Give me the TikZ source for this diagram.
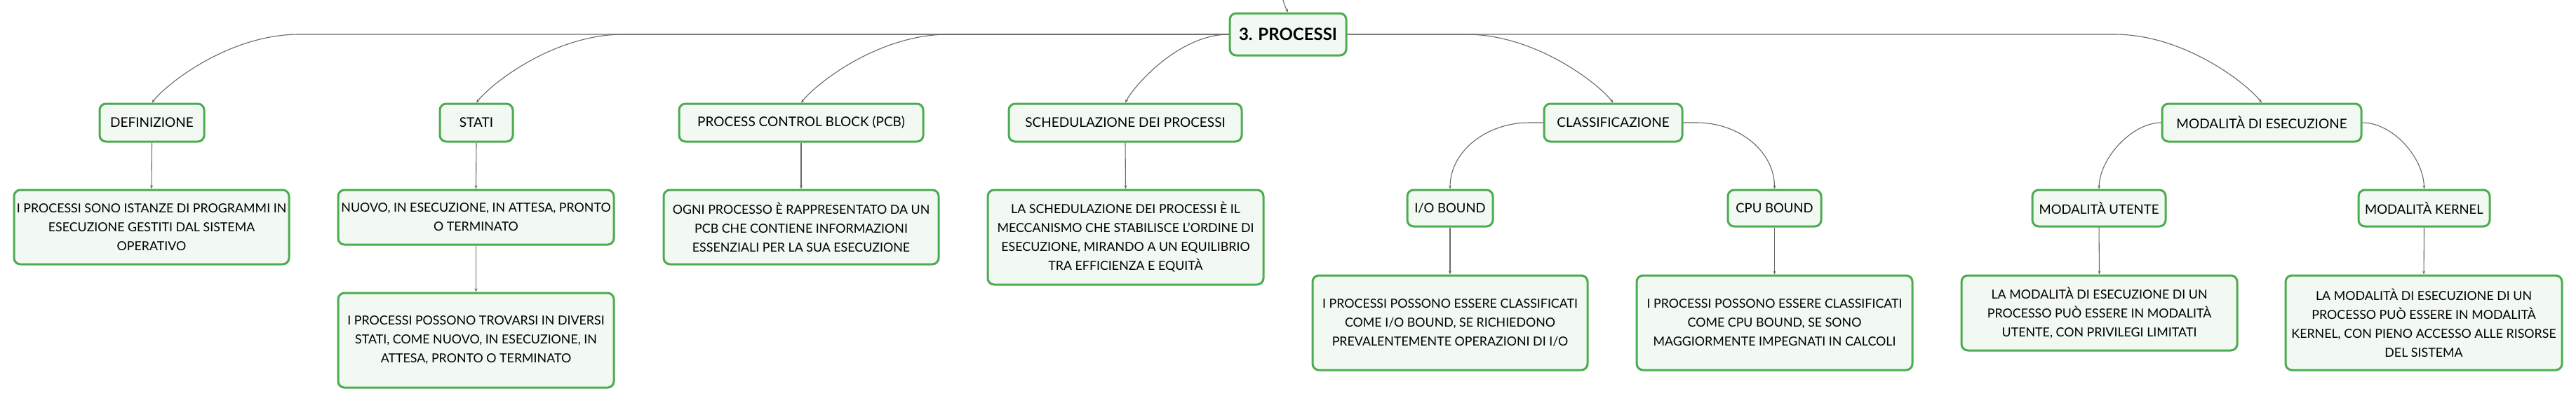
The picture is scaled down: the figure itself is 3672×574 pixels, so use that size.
\documentclass[tikz,border=0pt]{standalone}
\usepackage{fontspec}
\setmainfont{Lato}
\usetikzlibrary{arrows.meta}
\definecolor{boxgreen}{RGB}{76,172,80}
\definecolor{boxfill}{RGB}{242,249,242}
\definecolor{conngray}{RGB}{105,105,105}
\tikzset{
  box/.style={draw=boxgreen, line width=3pt, fill=boxfill, rounded corners=9pt, inner sep=0pt, align=center, text=black},
  lbl/.style={box, font=\fontsize{19}{24}\selectfont, minimum height=54pt},
  sublbl/.style={box, font=\fontsize{18.5}{24}\selectfont, minimum height=52pt},
  body/.style={box, font=\fontsize{17.8}{27}\selectfont},
  rootbox/.style={box, font=\bfseries\fontsize{24}{28}\selectfont, minimum width=166pt, minimum height=60pt},
  conn/.style={draw=conngray, line width=1.1pt, -{Stealth[length=5pt,width=4pt]}},
}
\begin{document}
\begin{tikzpicture}[x=1pt,y=-1pt]
\useasboundingbox (0,0) rectangle (3672,574);
\fill[white] (0,0) rectangle (3672,574);

% root
\node[rootbox] (root) at (1836,49) {3. PROCESSI};
\coordinate (topin) at (1829,0);

% level 1
\node[lbl, minimum width=149pt] (def) at (216.5,175) {DEFINIZIONE};
\node[lbl, minimum width=104pt] (stati) at (679,175) {STATI};
\node[lbl, minimum width=348pt] (pcb) at (1142,175) {PROCESS CONTROL BLOCK (PCB)};
\node[lbl, minimum width=332pt] (sched) at (1604,175) {SCHEDULAZIONE DEI PROCESSI};
\node[lbl, minimum width=197pt] (class) at (2299.5,175) {CLASSIFICAZIONE};
\node[lbl, minimum width=284pt] (mod) at (3224,175) {MODALITÀ DI ESECUZIONE};

% level 2 labels
\node[sublbl, minimum width=122pt] (iob) at (2067,297) {I/O BOUND};
\node[sublbl, minimum width=133pt] (cpub) at (2529.5,297) {CPU BOUND};
\node[sublbl, minimum width=190pt] (ute) at (2992,297) {MODALITÀ UTENTE};
\node[sublbl, minimum width=187pt] (ker) at (3455.5,297) {MODALITÀ KERNEL};

% text boxes
\node[body, minimum width=392pt, minimum height=106pt] (tdef) at (216,324)
  {I PROCESSI SONO ISTANZE DI PROGRAMMI IN\\ESECUZIONE GESTITI DAL SISTEMA\\OPERATIVO};
\node[body, minimum width=393pt, minimum height=78pt] (tst1) at (678.5,310)
  {NUOVO, IN ESECUZIONE, IN ATTESA, PRONTO\\O TERMINATO};
\node[body, minimum width=393pt, minimum height=135pt] (tst2) at (678.5,485.5)
  {I PROCESSI POSSONO TROVARSI IN DIVERSI\\STATI, COME NUOVO, IN ESECUZIONE, IN\\ATTESA, PRONTO O TERMINATO};
\node[body, minimum width=392pt, minimum height=106pt] (tpcb) at (1142,324)
  {OGNI PROCESSO È RAPPRESENTATO DA UN\\PCB CHE CONTIENE INFORMAZIONI\\ESSENZIALI PER LA SUA ESECUZIONE};
\node[body, minimum width=393pt, minimum height=135pt] (tsch) at (1604.5,338.5)
  {LA SCHEDULAZIONE DEI PROCESSI È IL\\MECCANISMO CHE STABILISCE L'ORDINE DI\\ESECUZIONE, MIRANDO A UN EQUILIBRIO\\TRA EFFICIENZA E EQUITÀ};
\node[body, minimum width=392pt, minimum height=135pt] (tio) at (2067,460.5)
  {I PROCESSI POSSONO ESSERE CLASSIFICATI\\COME I/O BOUND, SE RICHIEDONO\\PREVALENTEMENTE OPERAZIONI DI I/O};
\node[body, minimum width=393pt, minimum height=135pt] (tcpu) at (2529.5,460.5)
  {I PROCESSI POSSONO ESSERE CLASSIFICATI\\COME CPU BOUND, SE SONO\\MAGGIORMENTE IMPEGNATI IN CALCOLI};
\node[body, minimum width=393pt, minimum height=107pt] (tute) at (2992.5,446.5)
  {LA MODALITÀ DI ESECUZIONE DI UN\\PROCESSO PUÒ ESSERE IN MODALITÀ\\UTENTE, CON PRIVILEGI LIMITATI};
\node[body, minimum width=394pt, minimum height=135pt] (tker) at (3455,460.5)
  {LA MODALITÀ DI ESECUZIONE DI UN\\PROCESSO PUÒ ESSERE IN MODALITÀ\\KERNEL, CON PIENO ACCESSO ALLE RISORSE\\DEL SISTEMA};

% incoming from above
\draw[conn] (topin) .. controls (1832,10) .. (root.north);

% root -> level 1 (left)
\foreach \c in {def,stati,pcb}{
  \draw[conn] (root.west) -- ([xshift=210pt]\c.north |- root.west)
    .. controls ([xshift=111pt]\c.north |- root.west) and ([xshift=22pt,yshift=28pt]\c.north) .. (\c.north);
}
\draw[conn] (root.west) .. controls ([xshift=79pt]sched.north |- root.west) and ([xshift=15pt,yshift=28pt]sched.north) .. (sched.north);
% root -> level 1 (right)
\foreach \c in {class,mod}{
  \draw[conn] (root.east) -- ([xshift=-210pt]\c.north |- root.east)
    .. controls ([xshift=-111pt]\c.north |- root.east) and ([xshift=-22pt,yshift=28pt]\c.north) .. (\c.north);
}

% level 1 -> text
\draw[conn] (def.south) -- (tdef.north);
\draw[conn] (stati.south) -- (tst1.north);
\draw[conn] (tst1.south) -- (tst2.north);
\draw[conn] (pcb.south) -- (tpcb.north);
\draw[conn] (sched.south) -- (tsch.north);

% classificazione
\draw[conn] (class.west) -- ([xshift=113pt]iob.north |- class.west)
  .. controls ([xshift=51pt]iob.north |- class.west) and ([yshift=53pt]iob.north) .. (iob.north);
\draw[conn] (class.east) -- ([xshift=-111pt]cpub.north |- class.east)
  .. controls ([xshift=-50pt]cpub.north |- class.east) and ([yshift=53pt]cpub.north) .. (cpub.north);
\draw[conn] (iob.south) -- (tio.north);
\draw[conn] (cpub.south) -- (tcpu.north);

% modalita
\draw[conn] (mod.west) .. controls ([xshift=48pt]ute.north |- mod.west) and ([xshift=1pt,yshift=45pt]ute.north) .. (ute.north);
\draw[conn] (mod.east) .. controls ([xshift=-45pt]ker.north |- mod.east) and ([xshift=-1pt,yshift=45pt]ker.north) .. (ker.north);
\draw[conn] (ute.south) -- (tute.north);
\draw[conn] (ker.south) -- (tker.north);
\end{tikzpicture}
\end{document}
